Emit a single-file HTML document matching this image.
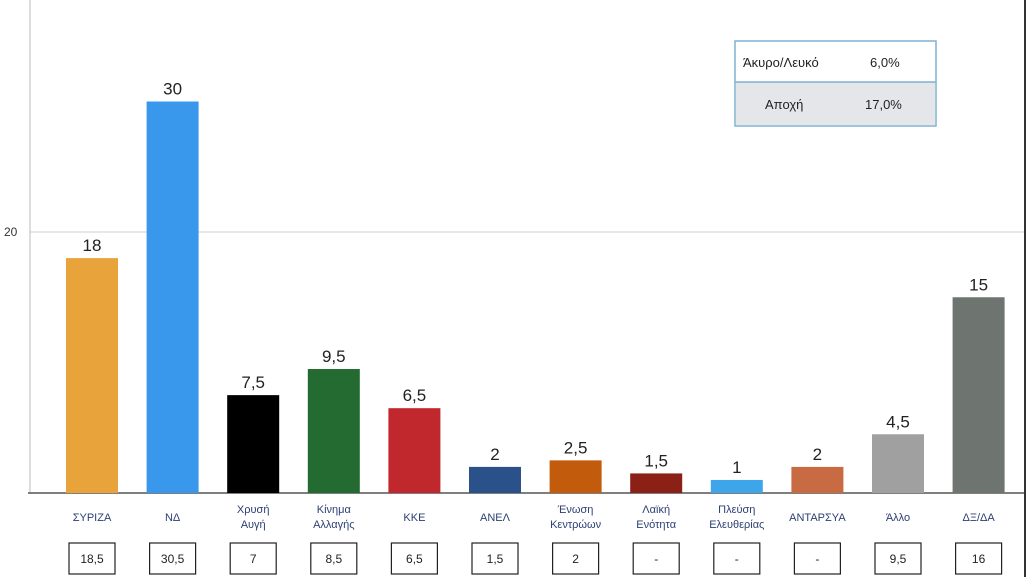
<!DOCTYPE html>
<html><head><meta charset="utf-8"><style>
body{margin:0;background:#fff;width:1027px;height:577px;overflow:hidden;font-family:"Liberation Sans","DejaVu Sans",sans-serif;}
svg text{font-family:"Liberation Sans","DejaVu Sans",sans-serif;}
</style></head><body>
<svg width="1027" height="577">
<g id="axes"></g><g id="bars"></g><g id="labels"></g><g id="boxes"></g>
<g>
<rect x="735" y="41" width="201" height="85" fill="#fff" stroke="#7fb2d0" stroke-width="1.5"/>
<rect x="736" y="82" width="199" height="43" fill="#e4e6ea"/>
<line x1="735" y1="82" x2="936" y2="82" stroke="#7fb2d0" stroke-width="1.5"/>
<text x="743" y="67" font-size="13" fill="#222">Άκυρο/Λευκό</text>
<text x="870" y="67" font-size="13" fill="#222">6,0%</text>
<text x="765" y="109" font-size="13" fill="#222">Αποχή</text>
<text x="865" y="109" font-size="13" fill="#222">17,0%</text>
</g>
<line x1="1025" y1="0" x2="1025" y2="577" stroke="#333" stroke-width="2"/>
</svg>
<script>
const categories=[["ΣΥΡΙΖΑ"],["ΝΔ"],["Χρυσή","Αυγή"],["Κίνημα","Αλλαγής"],["ΚΚΕ"],["ΑΝΕΛ"],["Ένωση","Κεντρώων"],["Λαϊκή","Ενότητα"],["Πλεύση","Ελευθερίας"],["ΑΝΤΑΡΣΥΑ"],["Άλλο"],["ΔΞ/ΔΑ"]];
const values=[18,30,7.5,9.5,6.5,2,2.5,1.5,1,2,4.5,15];
const valueLabels=["18","30","7,5","9,5","6,5","2","2,5","1,5","1","2","4,5","15"];
const previous=["18,5","30,5","7","8,5","6,5","1,5","2","-","-","-","9,5","16"];
const colors=["#e8a33a","#3a98ec","#000000","#236b30","#c0282e","#2a5189","#c35b0c","#8b2016","#3fa5ea","#c86a42","#a0a0a0","#6e7470"];
const yTicks=[20];
const NS="http://www.w3.org/2000/svg";
const y0=493, ppu=13.05, x0=92, step=80.6, bw=52;
const y=v=>y0-v*ppu, x=i=>x0+i*step;
function mk(tag,attrs,parent){const e=document.createElementNS(NS,tag);for(const k in attrs)e.setAttribute(k,attrs[k]);document.getElementById(parent).appendChild(e);return e;}
yTicks.forEach(t=>{
 const l=mk('line',{x1:30,x2:1025,y1:y(t),y2:y(t),stroke:'#cfcfcf','stroke-width':1},'axes');
 
 
 const tx=mk('text',{x:4,y:y(t)+4,'font-size':12,fill:'#333'},'axes');tx.textContent=t;
 
 
});
const ax=mk('line',{x1:30,x2:30,y1:0,y2:y0,stroke:'#bbb','stroke-width':1},'axes');


values.forEach((v,i)=>{
 const r=mk('rect',{x:x(i)-bw/2,y:y(v),width:bw,height:y0-y(v),fill:colors[i]},'bars');
 
 
 const t=mk('text',{x:x(i),y:y(v)-7,'font-size':17,'text-anchor':'middle',fill:'#222'},'labels');t.textContent=valueLabels[i];
 
 
 const lines=categories[i];
 lines.forEach((s,j)=>{
  const c=mk('text',{x:x(i),y:(lines.length==1?521:513)+j*15,'font-size':11,'text-anchor':'middle',fill:'#2b3f73'},'labels');c.textContent=s;
  
  
 });
 const b=mk('rect',{x:x(i)-23,y:543,width:46,height:31,fill:'#fff',stroke:'#222','stroke-width':1.2},'boxes');
 
 
 const bt=mk('text',{x:x(i),y:563,'font-size':12,'text-anchor':'middle',fill:'#222'},'boxes');bt.textContent=previous[i];
 
 
});
const base=mk('line',{x1:28,x2:1025,y1:y0,y2:y0,stroke:'#555','stroke-width':1.5},'axes');


</script>
</body></html>
